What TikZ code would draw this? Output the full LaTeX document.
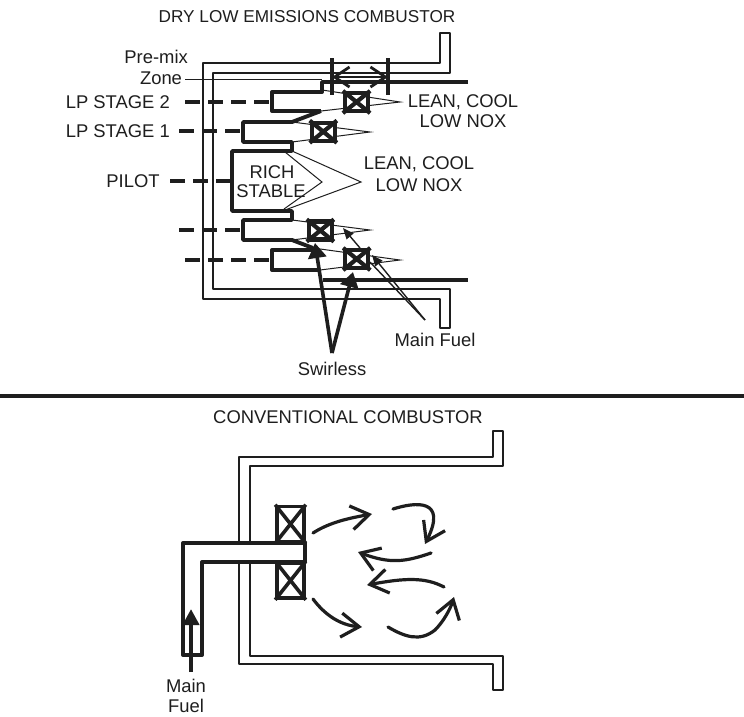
\documentclass[tikz,border=0pt]{standalone}
\usepackage{fontspec}
\setmainfont{Liberation Sans}
\usetikzlibrary{arrows.meta}
\definecolor{ink}{HTML}{1E1E1E}
\tikzset{
  x=1pt,y=-1pt,
  every path/.style={color=ink},
  lbl/.style={font=\fontsize{18.4}{20}\selectfont,text=ink,inner sep=0pt},
  wall/.style={draw=ink,line width=1.6pt,line join=round},
  pipe/.style={draw=ink,line width=3.9pt,line join=round},
  thin cone/.style={draw=ink,line width=1pt},
  dashline/.style={draw=ink,line width=3.4pt,dash pattern=on 15pt off 8pt},
  solidhead/.style={line width=3.6pt,-{Triangle[length=15pt,width=18pt]}},
  finehead/.style={line width=1.4pt,-{Triangle[length=11pt,width=9pt]}},
  swirlbox/.style={draw=ink,rectangle,inner sep=0pt,line width=4pt,fill=white},
  flowline/.style={draw=ink,line width=3.2pt,line cap=round,-{Straight Barb[length=18pt,width=24pt,line width=3.2pt]}},
  dimtip/.style={line width=2.8pt,{Straight Barb[length=15pt,width=20pt,line width=2.8pt]}-{Straight Barb[length=15pt,width=20pt,line width=2.8pt]}},
}
\newcommand{\swirl}[6]{%
  \node[swirlbox,line width=#6,minimum width=#4pt,minimum height=#5pt] (#1) at (#2,#3) {};
  \draw[line width=#6] (#1.north west) -- (#1.south east) (#1.north east) -- (#1.south west);}
\begin{document}
\begin{tikzpicture}
\useasboundingbox[fill=white] (0,0) rectangle (744,716);
% ---------- top
\node[lbl,font=\fontsize{17.2}{20}\selectfont] (title1) at (307,17) {DRY LOW EMISSIONS COMBUSTOR};
\path[wall] (440,33) -- (440,63) -- (203,63) -- (203,299) -- (440,299) -- (440,328) -- (450,328) -- (450,289) -- (213,289) -- (213,73) -- (450,73) -- (450,33) -- cycle;
% named points
\coordinate (t2a) at (322,90);
\coordinate (t2b) at (321,111);
\coordinate (t1a) at (292,122);
\coordinate (t1b) at (292,142);
\coordinate (pa) at (292,151);
\coordinate (pb) at (292,211);
\coordinate (l1a) at (292,220);
\coordinate (l1b) at (292,240);
\coordinate (l2a) at (313,248);
\coordinate (l2b) at (320,270);
\coordinate (tip1) at (400,102);
\coordinate (tip2) at (370,132);
\coordinate (tip3) at (370,230);
\coordinate (tip4) at (400,260);
\coordinate (tipin) at (322,182);
\coordinate (tipout) at (361,182);
% cones
\path[thin cone] (t2a) -- (tip1) -- (t2b);
\path[thin cone] (t1a) -- (tip2) -- (t1b);
\path[thin cone] (l1a) -- (tip3) -- (l1b);
\path[thin cone] (l2a) -- (tip4) -- (l2b);
\path[thin cone] (285,152) -- (tipin) -- (284,209);
\path[thin cone] (pa) -- (tipout) -- (285,210);
% burner outline
\path[pipe] (468,82) -- (322,82) -- (322,92) -- (272,92) -- (272,111) -- (t2b);
\path[pipe] (t2b) -- (t1a) -- (243,122) -- (243,142) -- (t1b) -- (pa) -- (232,151) -- (232,211) -- (pb) -- (l1a) -- (243,220) -- (243,240) -- (l1b) -- (l2a);
\path[pipe] (317,250) -- (272,250) -- (272,270) -- (l2b);
\path[pipe] (323,280) -- (468,280);
% swirlers
\swirl{s1}{356.5}{102}{23}{18}{4.2pt}
\swirl{s2}{323.3}{131.7}{23}{18}{4.2pt}
\swirl{s3}{320.3}{230.5}{23}{18}{4.2pt}
\swirl{s4}{356.7}{259}{23}{18}{4.2pt}
% pre-mix dimension
\coordinate (dl1) at (332,58); \coordinate (dl2) at (332,95);
\coordinate (dr1) at (388,58); \coordinate (dr2) at (388,95);
\coordinate (da) at (332,77); \coordinate (db) at (388,77);
\draw[line width=3.6pt] (dl1) -- (dl2) (dr1) -- (dr2);
\draw[dimtip] (da) -- (db);
% labels left
\node[lbl,anchor=east] (premix) at (188,57) {Pre-mix};
\node[lbl] (zone) at (161,78) {Zone};
\coordinate (zt) at (322,79);
\draw[line width=1pt] (zone.east) ++(3,1) -- (zt);
\node[lbl,anchor=east] (lp2) at (170,102) {LP STAGE 2};
\node[lbl,anchor=east] (lp1) at (170,131) {LP STAGE 1};
\node[lbl] (pilot) at (133,181) {PILOT};
\coordinate (f2) at (272,102); \coordinate (f1) at (243,131); \coordinate (fp) at (232,181);
\coordinate (f3) at (243,230); \coordinate (f4) at (272,260);
\coordinate (f3s) at (179,230); \coordinate (f4s) at (185,260);
\path[dashline] (185,102) -- (f2);
\path[dashline] (179,131) -- (f1);
\path[dashline] (170,181) -- (fp);
\path[dashline] (f3s) -- (f3);
\path[dashline] (f4s) -- (f4);
% labels right
\node[lbl] (lean1) at (463,102) {LEAN, COOL};
\node[lbl] (nox1) at (463,121) {LOW NOX};
\node[lbl] (lean2) at (419,164) {LEAN, COOL};
\node[lbl] (nox2) at (419,185) {LOW NOX};
\node[lbl] (rich) at (272,172) {RICH};
\node[lbl] (stable) at (271,191) {STABLE};
% arrows
\node[lbl] (swirless) at (332,369) {Swirless};
\node[lbl] (mainfuel) at (435,340) {Main Fuel};
\coordinate (sw) at (332,353);
\coordinate (swa) at (315,243);
\coordinate (swb) at (353,272);
\draw[solidhead] (sw) -- (swa);
\draw[solidhead] (sw) -- (swb);
\coordinate (mf) at (425,320);
\coordinate (mfa) at (372,255);
\coordinate (mfb) at (370,262);
\draw[finehead] (mf) -- (mfa);
\draw[line width=1.4pt] (mf) -- (mfb);
\coordinate (mfc) at (360,248);
\coordinate (mfd) at (343,228);
\draw[finehead] (mfc) -- (mfd);
% separator
\coordinate (sepl) at (0,396); \coordinate (sepr) at (744,396);
\draw[line width=4.2pt] (sepl) -- (sepr);
% ---------- bottom
\node[lbl] (title2) at (348,417) {CONVENTIONAL COMBUSTOR};
\path[wall] (493,431) -- (493,457) -- (239,457) -- (239,664) -- (493,664) -- (493,690) -- (503,690) -- (503,656) -- (250,656) -- (250,466) -- (503,466) -- (503,431) -- cycle;
\path[pipe,fill=white] (183,655) -- (183,543) -- (305,543) -- (305,562) -- (202,562) -- (202,655) -- cycle;
\swirl{c1}{290.5}{524}{27}{35}{3.6pt}
\swirl{c2}{290.5}{580.5}{27}{35}{3.6pt}
\coordinate (fa) at (191,672); \coordinate (fb) at (191,609);
\draw[line width=4pt,-{Triangle[length=16pt,width=16pt]}] (fa) -- (fb);
\node[lbl] (main) at (186,686) {Main};
\node[lbl] (fuel) at (186,706) {Fuel};
\coordinate (a1) at (313,533); \coordinate (a1e) at (372,514);
\coordinate (a2) at (393,509); \coordinate (a2e) at (425,544);
\coordinate (a3) at (431,553); \coordinate (a3e) at (358,552);
\coordinate (a4) at (444,587); \coordinate (a4e) at (367,585);
\coordinate (a5) at (313,599); \coordinate (a5e) at (362,627);
\coordinate (a6) at (388,627); \coordinate (a6e) at (454,597);
\path[flowline] (a1) .. controls (330,522) and (350,518) .. (a1e);
\path[flowline] (a2) .. controls (415,502) and (448,498) .. (a2e);
\path[flowline] (a3) .. controls (405,562) and (390,564) .. (a3e);
\path[flowline] (a4) .. controls (425,577) and (405,578) .. (a4e);
\path[flowline] (a5) .. controls (325,615) and (340,625) .. (a5e);
\path[flowline] (a6) .. controls (405,637) and (420,642) .. (435,630) .. controls (443,622) and (450,610) .. (a6e);
\end{tikzpicture}
\end{document}
